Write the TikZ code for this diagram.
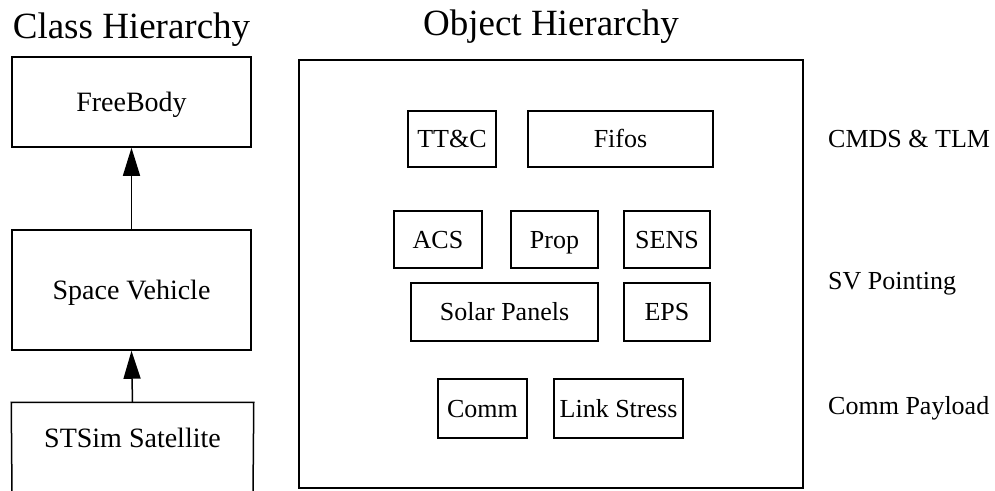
\documentclass[tikz,border=0pt]{standalone}
\usepackage{fontspec}
\setmainfont{Liberation Serif}
\usetikzlibrary{arrows.meta}
\begin{document}
\begin{tikzpicture}[x=1pt,y=-1pt,
  box/.style={draw, line width=1.5pt, inner sep=0pt, text height=17pt, text depth=0pt, font=\fontsize{26}{30}\selectfont},
  lbox/.style={box, text height=18.5pt, font=\fontsize{28}{32}\selectfont},
  title/.style={font=\fontsize{37}{42}\selectfont, anchor=base, inner sep=0pt},
  side/.style={font=\fontsize{26}{30}\selectfont, anchor=base west, inner sep=0pt},
  inherit/.style={line width=1.5pt, -{Triangle[length=28pt,width=17pt]}}]
\useasboundingbox (0,0) rectangle (995,490);
% titles
\node[title] (tc) at (131.5,38) {Class Hierarchy};
\node[title] (to) at (551,35) {Object Hierarchy};
% class hierarchy
\node[lbox, minimum width=239pt, minimum height=90pt] (fb) at (131.5,102) {FreeBody};
\node[lbox, minimum width=239pt, minimum height=120pt] (sv) at (131.5,290) {Space Vehicle};
\node[lbox, draw=none, minimum width=241pt, minimum height=70pt] (sts) at (132.5,438) {STSim Satellite};
\coordinate (stsbl) at (12,495);
\coordinate (stsbr) at (253,495);
\draw[line width=1.5pt] (stsbl) -- (sts.north west) -- (sts.north east) -- (stsbr);
\draw[inherit] (sv.north) -- (fb.south);
\draw[inherit] (sts.north) -- (sv.south);
% object hierarchy
\node[box, minimum width=504pt, minimum height=428pt] (ob) at (551,274) {};
\node[box, minimum width=88pt, minimum height=56pt] (ttc) at (452,139) {TT\&C};
\node[box, minimum width=185pt, minimum height=56pt] (fifo) at (620.5,139) {Fifos};
\node[box, minimum width=88pt, minimum height=57pt] (acs) at (438,239.5) {ACS};
\node[box, minimum width=87pt, minimum height=57pt] (prop) at (554.5,239.5) {Prop};
\node[box, minimum width=86pt, minimum height=57pt] (sens) at (667,239.5) {SENS};
\node[box, minimum width=187pt, minimum height=58pt] (solar) at (504.5,312) {Solar Panels};
\node[box, minimum width=86pt, minimum height=58pt] (eps) at (667,312) {EPS};
\node[box, minimum width=89pt, minimum height=59pt] (comm) at (482.5,408.5) {Comm};
\node[box, minimum width=129pt, minimum height=59pt] (link) at (618.5,408.5) {Link Stress};
% side labels
\node[side] (l1) at (828,147) {CMDS \& TLM};
\node[side] (l2) at (828,289) {SV Pointing};
\node[side] (l3) at (828,414) {Comm Payload};
\end{tikzpicture}
\end{document}
